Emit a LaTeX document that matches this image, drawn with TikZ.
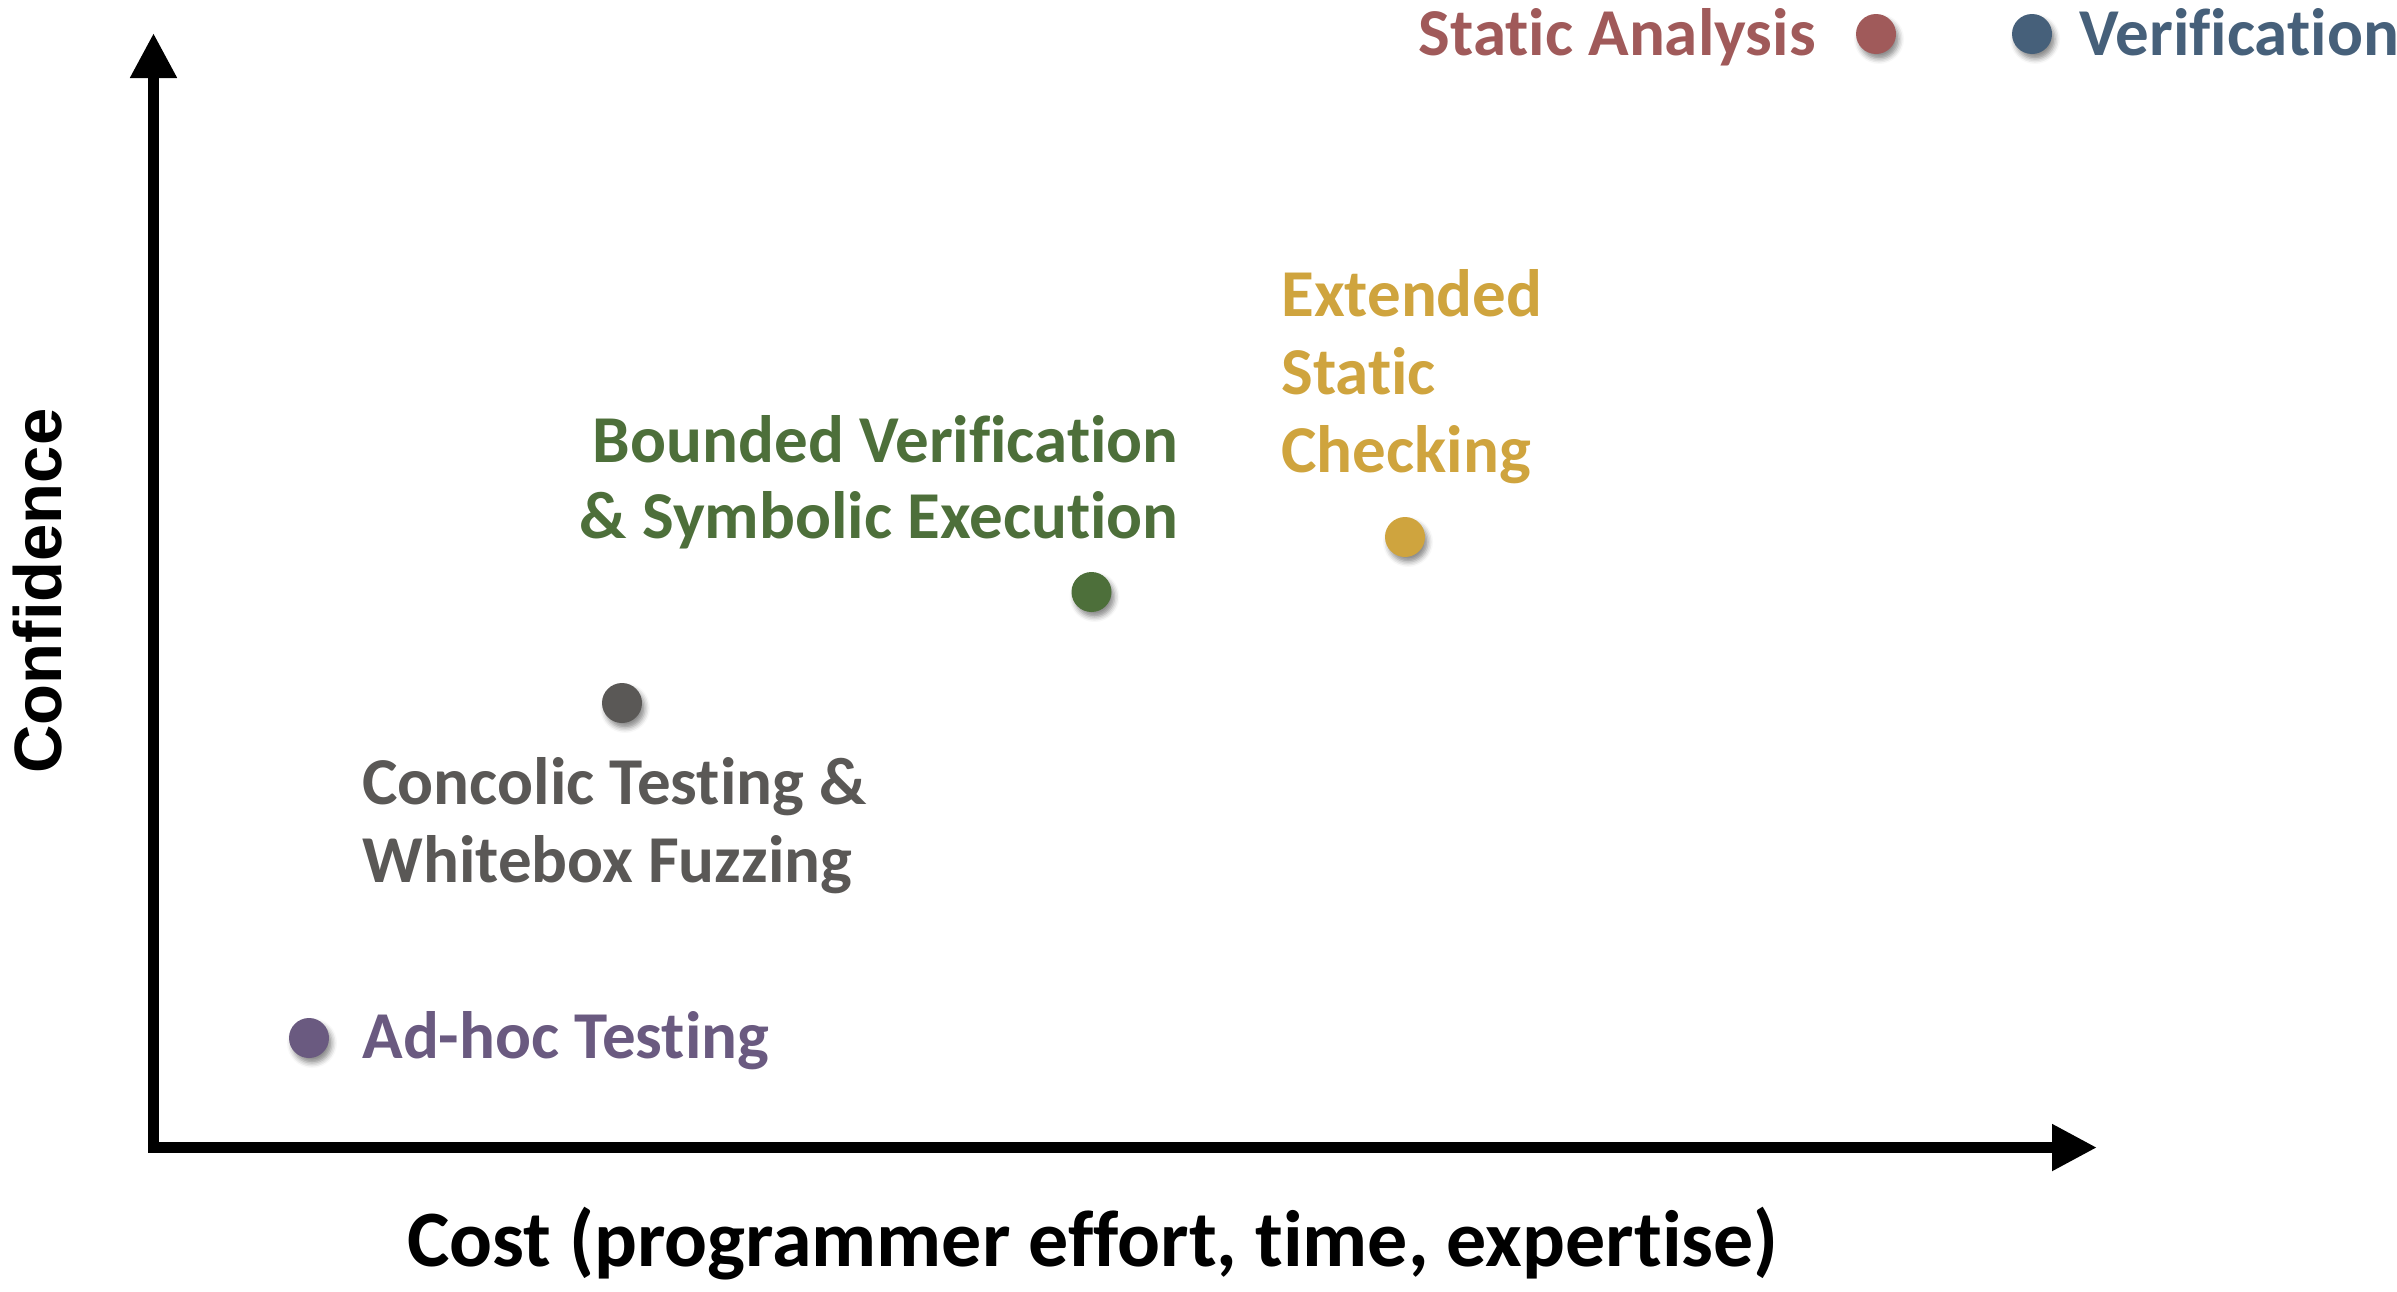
\documentclass[tikz,border=0pt]{standalone}
\usepackage{fontspec}
\setmainfont{Carlito}[Ligatures=NoCommon]
\newfontfamily\conffont{Liberation Sans}
\usetikzlibrary{arrows.meta,shadows.blur}
\definecolor{cSA}{HTML}{A05A5A}
\definecolor{cVer}{HTML}{46607A}
\definecolor{cESC}{HTML}{CFA43E}
\definecolor{cBV}{HTML}{4D6F3A}
\definecolor{cCT}{HTML}{5A5856}
\definecolor{cAH}{HTML}{6A5A80}
\begin{document}
\begin{tikzpicture}[x=0.5pt,y=-0.5pt,
  dot/.style={circle,inner sep=0pt,minimum size=20pt,
    blur shadow={shadow xshift=1.5pt,shadow yshift=-2.5pt,shadow blur radius=2.5pt,shadow opacity=45}},
  lbl/.style={inner sep=0pt,font=\fontsize{33.5}{40}\selectfont\bfseries},
  axis/.style={line width=5.5pt,line join=miter,
    {Triangle[length=22.5pt,width=22pt]}-{Triangle[length=22.5pt,width=22pt]}}]
\useasboundingbox (0,0) rectangle (2397,1291);
\coordinate (ytip) at (153.5,33);
\coordinate (O) at (153.5,1147.5);
\coordinate (xtip) at (2097,1147.5);
\draw[axis] (ytip) -- (O) -- (xtip);

\node[lbl,anchor=base,font=\fontsize{40}{46}\selectfont\bfseries] (cost) at (1093,1266) {Cost (programmer effort, time, expertise)};
\node[inner sep=0pt,anchor=base,rotate=90,font=\conffont\fontsize{33.5}{40}\selectfont\bfseries] (conf) at (61,591) {Confidence};

% legend
\node[dot,fill=cSA] (dsa) at (1876,34) {};
\node[dot,fill=cVer] (dver) at (2032,34) {};
\node[lbl,text=cSA,anchor=base east] (tsa) at (1816,55) {Static Analysis};
\node[lbl,text=cVer,anchor=base west] (tver) at (2079,55) {Verification};

% Extended static checking
\node[dot,fill=cESC] (desc) at (1405,537) {};
\node[lbl,text=cESC,anchor=base west] (esc1) at (1281,316) {Extended};
\node[lbl,text=cESC,anchor=base west] (esc2) at (1281,394) {Static};
\node[lbl,text=cESC,anchor=base west] (esc3) at (1281,472) {Checking};

% Bounded verification
\node[dot,fill=cBV] (dbv) at (1091.5,592) {};
\node[lbl,text=cBV,anchor=base east] (bv1) at (1179,462) {Bounded Verification};
\node[lbl,text=cBV,anchor=base east] (bv2) at (1179,538) {\& Symbolic Execution};

% Concolic
\node[dot,fill=cCT] (dct) at (622,703) {};
\node[lbl,text=cCT,anchor=base west] (ct1) at (362,804) {Concolic Testing \&};
\node[lbl,text=cCT,anchor=base west] (ct2) at (362,882) {Whitebox Fuzzing};

% Ad-hoc
\node[dot,fill=cAH] (dah) at (309,1038) {};
\node[lbl,text=cAH,anchor=base west] (tah) at (362,1058) {Ad-hoc Testing};
\end{tikzpicture}
\end{document}
